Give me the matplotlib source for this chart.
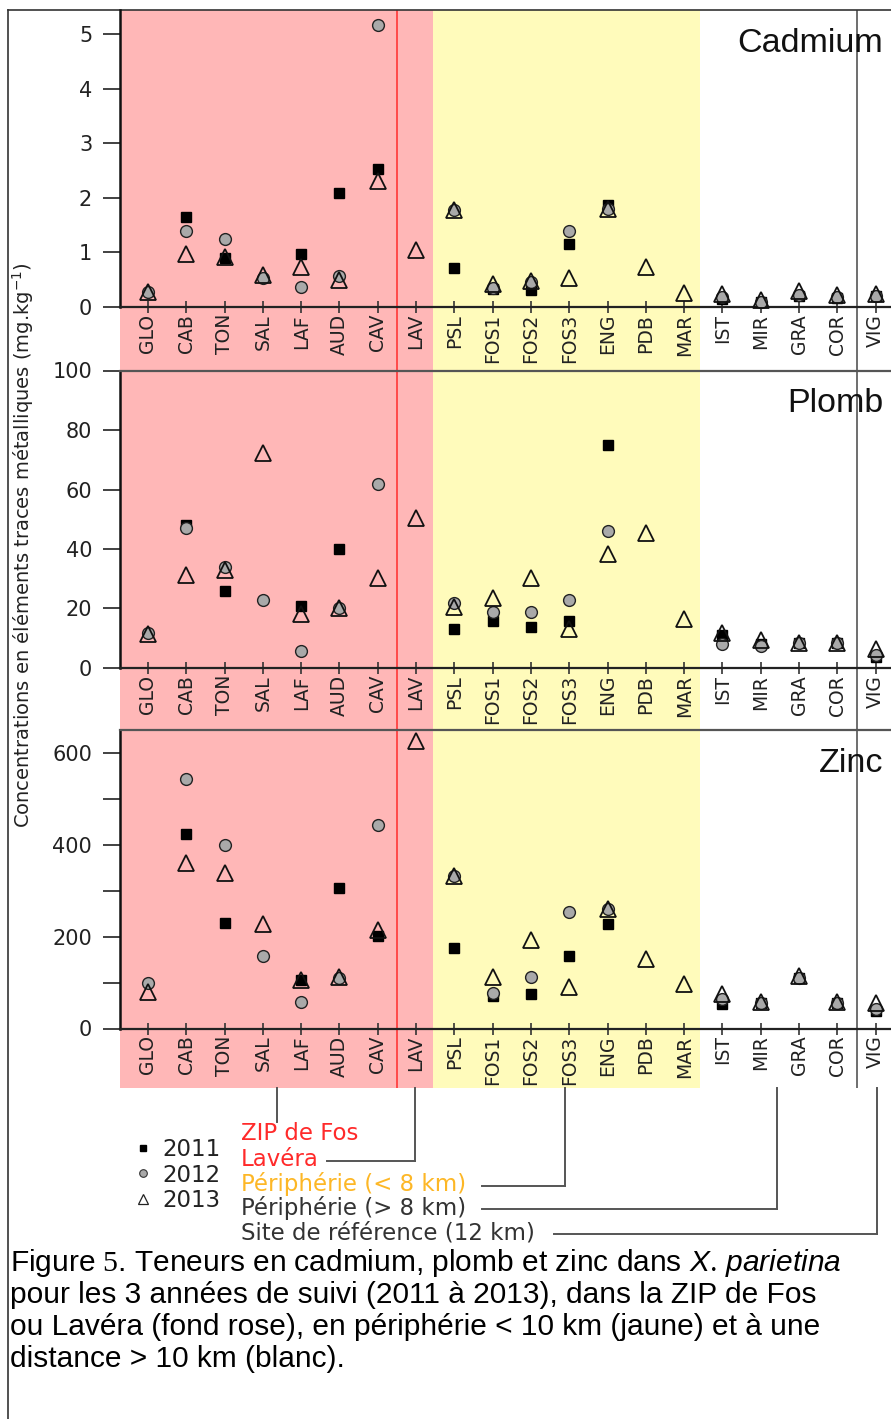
import matplotlib
matplotlib.use('Agg')
import matplotlib.pyplot as plt
import matplotlib.transforms as mtransforms
from matplotlib.lines import Line2D
import numpy as np

plt.rcParams.update({
    'font.family': ['DejaVu Sans'],
    'mathtext.rm': 'Liberation Serif',
    'mathtext.it': 'Liberation Sans:italic',
})

# ---------------- data ----------------
sites = ['GLO', 'CAB', 'TON', 'SAL', 'LAF', 'AUD', 'CAV', 'LAV', 'PSL', 'FOS1',
         'FOS2', 'FOS3', 'ENG', 'PDB', 'MAR', 'IST', 'MIR', 'GRA', 'COR', 'VIG']
nan = np.nan

cd_2011 = [nan, 1.65, 0.90, nan, 0.97, 2.08, 2.53, nan, 0.72, 0.33,
           0.31, 1.15, 1.86, nan, nan, 0.15, 0.09, 0.20, 0.17, 0.20]
cd_2012 = [0.27, 1.40, 1.25, 0.53, 0.36, 0.57, 5.17, nan, 1.78, 0.34,
           0.45, 1.40, 1.80, nan, nan, 0.19, 0.10, 0.22, 0.18, 0.20]
cd_2013 = [0.28, 0.97, 0.92, 0.59, 0.74, 0.50, 2.30, 1.05, 1.78, 0.43,
           0.48, 0.53, 1.80, 0.74, 0.26, 0.23, 0.12, 0.29, 0.22, 0.24]

pb_2011 = [nan, 47.9, 26.0, nan, 20.9, 39.9, nan, nan, 13.0, 15.9,
           13.9, 15.8, 75.0, nan, nan, 11.1, 8.0, 8.5, 8.3, 3.8]
pb_2012 = [11.7, 47.0, 34.0, 22.9, 5.8, 20.0, 61.9, nan, 22.0, 18.9,
           18.9, 22.9, 45.9, nan, nan, 8.0, 7.4, 8.3, 8.3, 4.4]
pb_2013 = [11.5, 31.3, 33.0, 72.2, 18.2, 20.2, 30.2, 50.3, 20.4, 23.4,
           30.2, 13.0, 38.3, 45.5, 16.4, 11.9, 9.4, 8.5, 8.5, 6.3]

zn_2011 = [nan, 424, 231, nan, 106, 306, 202, nan, 176, 71,
           76, 158, 228, nan, nan, 54, 55, 110, 55, 39]
zn_2012 = [98.8, 543, 400, 157, 57, 110, 444, nan, 333, 78,
           113, 253, 261, nan, nan, 64, 55, 110, 55, 42]
zn_2013 = [80.6, 360, 338, 228, 105, 112, 215, 627, 333, 112,
           192, 90, 261, 151, 97, 75.5, 57, 115, 57, 55]

panels = [
    ('Cadmium', cd_2011, cd_2012, cd_2013),
    ('Plomb', pb_2011, pb_2012, pb_2013),
    ('Zinc', zn_2011, zn_2012, zn_2013),
]
years = ['2011', '2012', '2013']

zone_labels = ['ZIP de Fos', 'Lavéra', 'Périphérie (< 8 km)',
               'Périphérie (> 8 km)', 'Site de référence (12 km)']

# ---------------- layout ----------------
W, H = 891, 1419
fig = plt.figure(figsize=(W / 100, H / 100), dpi=100)


def fx(px):
    return px / W


def fy(px):
    return 1 - px / H


PINK = '#ffb7b7'
YELLOW = '#fffbbb'
GREY_DOT = '#a9a9a9'
XLIM = (-0.731, 20.0)
ax_l, ax_w = fx(120), 794 / W

# background strips (pink / yellow) behind all three panels
bg = fig.add_axes([ax_l, fy(1088), ax_w, (1088 - 10) / H], zorder=0)
bg.set_xlim(*XLIM)
bg.set_ylim(0, 1)
bg.axis('off')
bg.axvspan(XLIM[0], 7.45, color=PINK, lw=0)
bg.axvspan(7.45, 14.42, color=YELLOW, lw=0)
bg.axvline(6.5, color='#ff4a4a', lw=1.4)
bg.axvline(18.5, color='#555555', lw=1.2)

# (top px, bottom px, ylim, ticks, ticklabels, title baseline px)
geo = [
    (10, 307, (0, 5.44), [0, 1, 2, 3, 4, 5], ['0', '1', '2', '3', '4', '5'], 52),
    (370.5, 668, (0, 100), [0, 20, 40, 60, 80, 100],
     ['0', '20', '40', '60', '80', '100'], 412),
    (730, 1028.5, (0, 650.8), [0, 100, 200, 300, 400, 500, 600],
     ['0', '', '200', '', '400', '', '600'], 772),
]

x = np.arange(len(sites))
for (name, v11, v12, v13), (top, bot, ylim, yt, ytl, tb) in zip(panels, geo):
    ax = fig.add_axes([ax_l, fy(bot), ax_w, (bot - top) / H], zorder=2)
    ax.patch.set_alpha(0)
    ax.set_xlim(*XLIM)
    ax.set_ylim(*ylim)
    ax.plot(x, v11, ls='none', marker='s', ms=7.5, mfc='black', mec='black',
            mew=1, clip_on=False, zorder=3)
    ax.plot(x, v12, ls='none', marker='o', ms=8.5, mfc=GREY_DOT, mec='#222222',
            mew=1, clip_on=False, zorder=4)
    ax.plot(x, v13, ls='none', marker='^', ms=11, mfc='none', mec='#111111',
            mew=1.3, clip_on=False, zorder=5)

    ax.set_xticks(x)
    ax.set_xticklabels(sites, rotation=90, fontsize=13.5, color='#222222')
    ax.tick_params(axis='x', direction='inout', length=8, width=1.2,
                   pad=1, colors='#333333', labelcolor='#222222')
    ax.set_yticks(yt)
    ax.set_yticklabels(ytl, fontsize=15, color='#222222')
    ax.tick_params(axis='y', direction='out', length=12, width=1.3,
                   pad=8, colors='#333333', labelcolor='#222222')

    ax.spines['right'].set_visible(False)
    ax.spines['left'].set_linewidth(1.8)
    ax.spines['left'].set_color('#111111')
    ax.spines['bottom'].set_linewidth(1.6)
    ax.spines['bottom'].set_color('#222222')
    if top <= 10:
        ax.spines['top'].set_visible(False)
    else:
        ax.spines['top'].set_linewidth(1.6)
        ax.spines['top'].set_color('#555555')

    fig.text(fx(883), fy(tb), name, ha='right', va='baseline',
             fontsize=24.5, family='Liberation Sans', color='#111111', zorder=6)

# page frame
fig.add_artist(Line2D([fx(8), 1.0], [fy(10), fy(10)], color='#333333', lw=1.2))
fig.add_artist(Line2D([fx(8), fx(8)], [fy(10), 0], color='#333333', lw=1.2))

# y label
fig.text(fx(23), fy(545), 'Concentrations en éléments traces métalliques (mg.kg$^{-1}$)',
         rotation=90, ha='center', va='center', fontsize=14, color='#222222')

# year legend
handles = [
    Line2D([], [], ls='none', marker='s', ms=5, mfc='black', mec='black'),
    Line2D([], [], ls='none', marker='o', ms=5.5, mfc=GREY_DOT, mec='#333333', mew=0.8),
    Line2D([], [], ls='none', marker='^', ms=6.5, mfc='none', mec='#222222', mew=0.9),
]
fig.legend(handles, years, loc='center left', bbox_to_anchor=(fx(136), fy(1175)),
           frameon=False, handlelength=0.6, handletextpad=0.55, labelspacing=0.12,
           borderpad=0, borderaxespad=0, prop={'family': 'DejaVu Sans', 'size': 16.5},
           labelcolor='#222222')

# zone labels with connector lines
zone_colors = ['#ff2a2a', '#ff2a2a', '#fdb726', '#333333', '#333333']
zone_y = [1134, 1159, 1184, 1208, 1233]
for lab, col, yy in zip(zone_labels, zone_colors, zone_y):
    fig.text(fx(241), fy(yy), lab, ha='left', va='center', fontsize=16.5,
             color=col)

tr = mtransforms.blended_transform_factory(bg.transData, fig.transFigure)
conn_kw = dict(color='#555555', lw=1.4, transform=tr, clip_on=False)
# (site position, bottom px, start of horizontal run in site units or None)
connectors = [(3.37, 1122, None), (6.97, 1161, 4.68), (10.9, 1186, 8.72),
              (16.42, 1209, 8.72), (19.03, 1234, 10.6)]
for xs, yb, xh in connectors:
    fig.add_artist(Line2D([xs, xs], [fy(1088), fy(yb)], **conn_kw))
    if xh is not None:
        fig.add_artist(Line2D([xh, xs], [fy(yb), fy(yb)], **conn_kw))

# caption
cap_lines = [
    r'Figure $\mathrm{5}$. Teneurs en cadmium, plomb et zinc dans $\mathit{X.\,parietina}$',
    'pour les 3 années de suivi (2011 à 2013), dans la ZIP de Fos',
    'ou Lavéra (fond rose), en périphérie < 10 km (jaune) et à une',
    'distance > 10 km (blanc).',
]
for i, line in enumerate(cap_lines):
    fig.text(fx(10), fy(1271 + 32 * i), line, ha='left', va='baseline',
             fontsize=21.5, family='Liberation Sans', color='black',
             math_fontfamily='custom')

fig.savefig('out.png', dpi=100)
